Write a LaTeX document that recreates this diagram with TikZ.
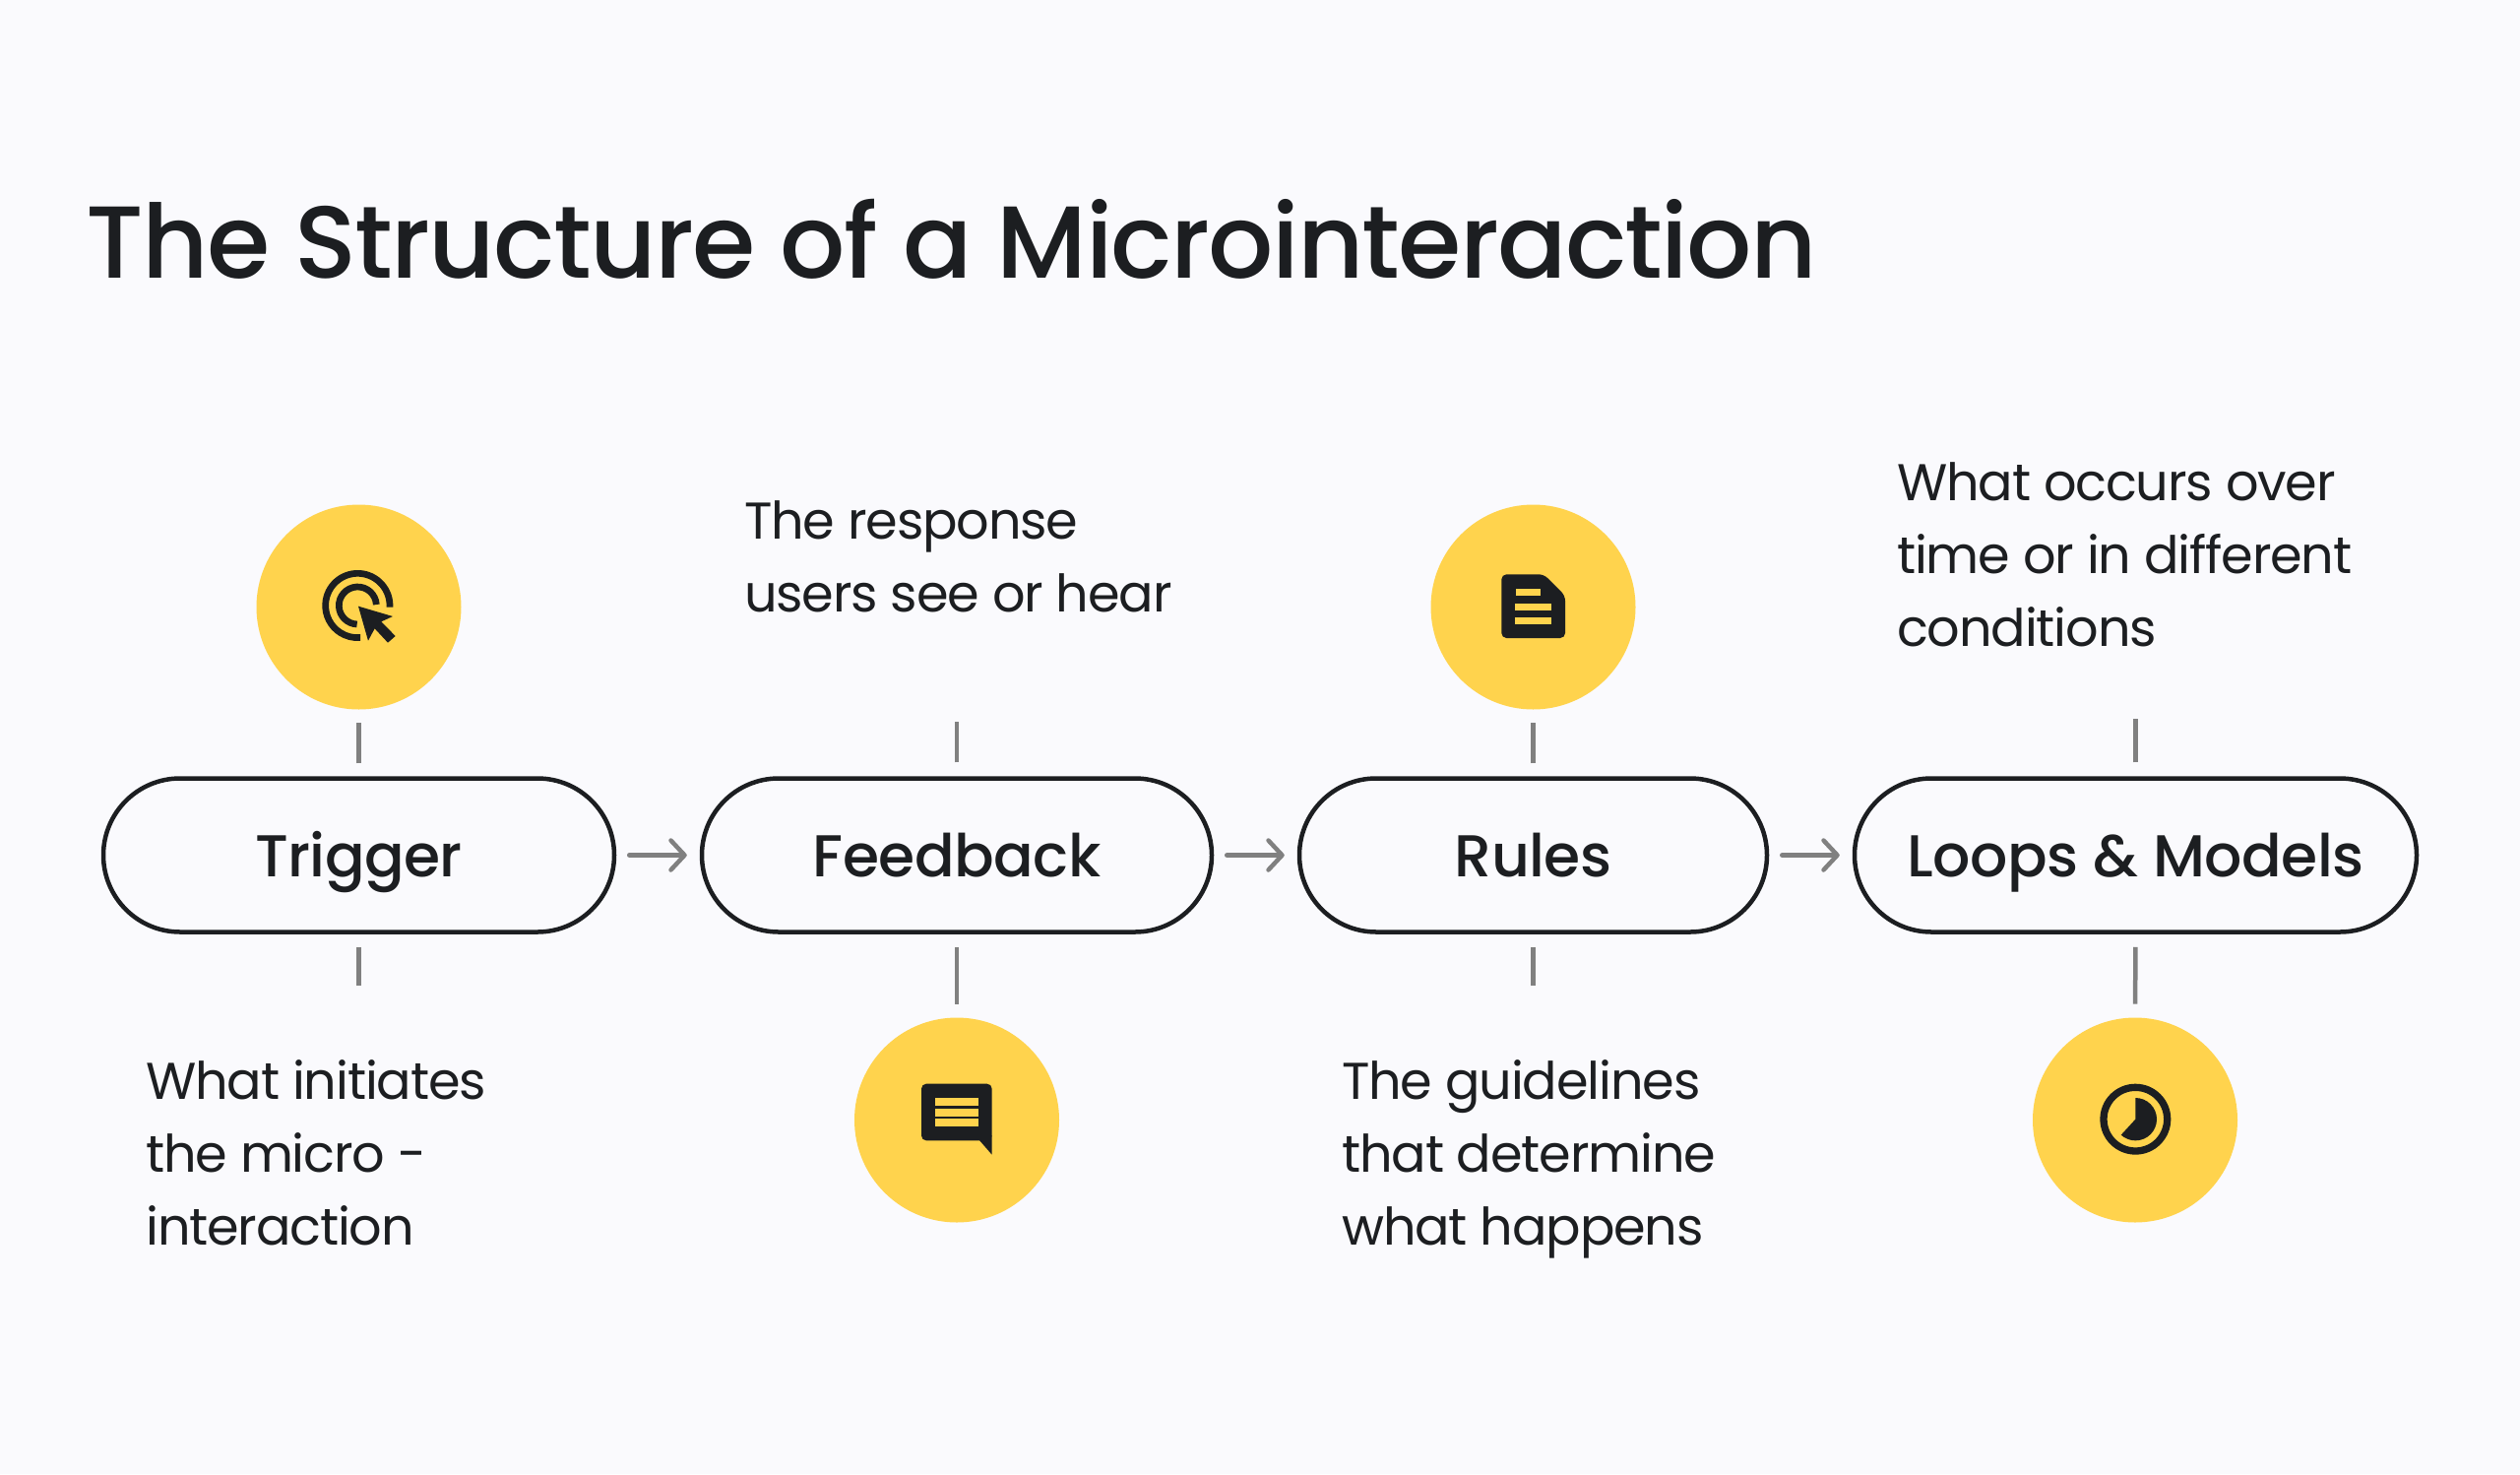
\documentclass[tikz,border=0pt]{standalone}
\usepackage{fontspec}
\setmainfont[LetterSpace=-2.2]{Poppins}
\newfontfamily\medfont[LetterSpace=-0.9]{Poppins Medium}
\newfontfamily\titlefont[LetterSpace=-1.65]{Poppins Medium}
\usetikzlibrary{arrows.meta}
\definecolor{bgc}{HTML}{FAFAFD}
\definecolor{ink}{HTML}{1C1E21}
\definecolor{sun}{HTML}{FFD34D}
\definecolor{tickc}{HTML}{808080}
\tikzset{
  pill/.style={draw=ink,line width=4.5pt,rounded corners=78pt,minimum height=156pt,fill=none,text=ink,inner sep=0pt,text height=50pt,text depth=6.4pt,font=\medfont\fontsize{60}{74}\selectfont},
  iconcircle/.style={circle,fill=sun,minimum size=208pt,inner sep=0pt,outer sep=0pt},
  bodytext/.style={anchor=north west,inner sep=0pt,text=ink,align=left,font=\fontsize{52.5}{74}\selectfont},
  titletext/.style={anchor=base west,inner sep=0pt,text=ink,font=\titlefont\fontsize{104}{120}\selectfont},
  tickline/.style={draw=tickc,line width=4.5pt},
  flow/.style={draw=tickc,line width=4.5pt,line cap=round,-{Straight Barb[length=14pt,width=30pt,line cap=round,line join=round]},shorten <=13pt,shorten >=13pt},
  crop/.style={x=0.33333pt,y=-0.33333pt}
}
\begin{document}
\begin{tikzpicture}[x=1pt,y=-1pt]
\path[use as bounding box,fill=bgc] (0,0) rectangle (2560,1497);
\node[titletext] (title) at (87,282) {The Structure of a Microinteraction};
% pills
\node[pill,minimum width=519pt] (trigger) at (364.5,868.5) {Trigger};
\node[pill,minimum width=518pt] (feedback) at (972,868.5) {Feedback};
\node[pill,minimum width=475pt] (rules) at (1557.5,868.5) {Rules};
\node[pill,minimum width=571pt] (loops) at (2169.5,868.5) {Loops \& Models};
% circles
\node[iconcircle] (c1) at (364.5,616.5) {};
\node[iconcircle] (c2) at (972,1137.5) {};
\node[iconcircle] (c3) at (1557.5,616.5) {};
\node[iconcircle] (c4) at (2169,1137.5) {};
% texts
\node[bodytext] (t1) at (148,1076) {What initiates\\the micro -\\interaction};
\node[bodytext] (t2) at (756,508) {The response\\users see or hear};
\node[bodytext] (t3) at (1363,1076) {The guidelines\\that determine\\what happens};
\node[bodytext] (t4) at (1927,469.5) {What occurs over\\time or in different\\conditions};
% free tick ends
\coordinate (e1) at (364.5,1001);
\coordinate (e2) at (972,733);
\coordinate (e3) at (1557.5,1001);
\coordinate (e4) at (2169.5,730);
% ticks
\draw[tickline,shorten <=13pt] (trigger.south) -- (e1);
\draw[tickline,shorten <=13pt,shorten >=13pt] (trigger.north) -- (c1.south);
\draw[tickline,shorten <=14pt] (feedback.north) -- (e2);
\draw[tickline,shorten <=13pt,shorten >=14pt] (feedback.south) -- (c2.north);
\draw[tickline,shorten <=13pt] (rules.south) -- (e3);
\draw[tickline,shorten <=13pt,shorten >=13pt] (rules.north) -- (c3.south);
\draw[tickline,shorten <=14pt] (loops.north) -- (e4);
\draw[tickline,shorten <=13pt,shorten >=14pt] (loops.south) -- (c4.north);
% arrows
\draw[flow] (trigger.east) -- (feedback.west);
\draw[flow] (feedback.east) -- (rules.west);
\draw[flow] (rules.east) -- (loops.west);
% cursor icon
\begin{scope}[shift={(250,500)},crop]
\draw[ink,line width=6.7pt] ([shift={(3:98)}]340,345) arc[start angle=3,end angle=-275,radius=98];
\draw[ink,line width=6.7pt] ([shift={(-3:57)}]340,345) arc[start angle=-3,end angle=-268,radius=57];
\fill[sun] (330,335) -- (470,372) -- (395,400) -- (365,470) -- cycle;
\fill[ink] (342,347) -- (447,378) -- (412,394) -- (455,438) -- (432,458) -- (392,415) -- (372,452) -- cycle;
\end{scope}
% comment icon
\begin{scope}[shift={(850,1020)},crop]
\fill[ink,rounded corners=5pt] (258,242) -- (473,242) -- (473,415) -- (258,415) -- cycle;
\fill[ink] (433,412) -- (473,400) -- (473,458) -- cycle;
\fill[sun] (300,285) rectangle (432,310);
\fill[sun] (300,317) rectangle (432,342);
\fill[sun] (300,349) rectangle (432,373);
\end{scope}
% document icon
\begin{scope}[shift={(1440,500)},crop]
\fill[ink,rounded corners=5pt] (256,250) -- (385,250) -- (450,315) -- (450,444) -- (256,444) -- cycle;
\fill[sun] (300,294) rectangle (375,316);
\fill[sun] (298,338) rectangle (408,360);
\fill[sun] (298,380) rectangle (408,403);
\end{scope}
% clock icon
\begin{scope}[shift={(2050,1020)},crop]
\draw[ink,line width=7.3pt] (358,350) circle[radius=97];
\fill[ink] (358,350) -- (358,285) arc[start angle=-90,end angle=132.5,radius=65] -- cycle;
\end{scope}
\end{tikzpicture}
\end{document}
